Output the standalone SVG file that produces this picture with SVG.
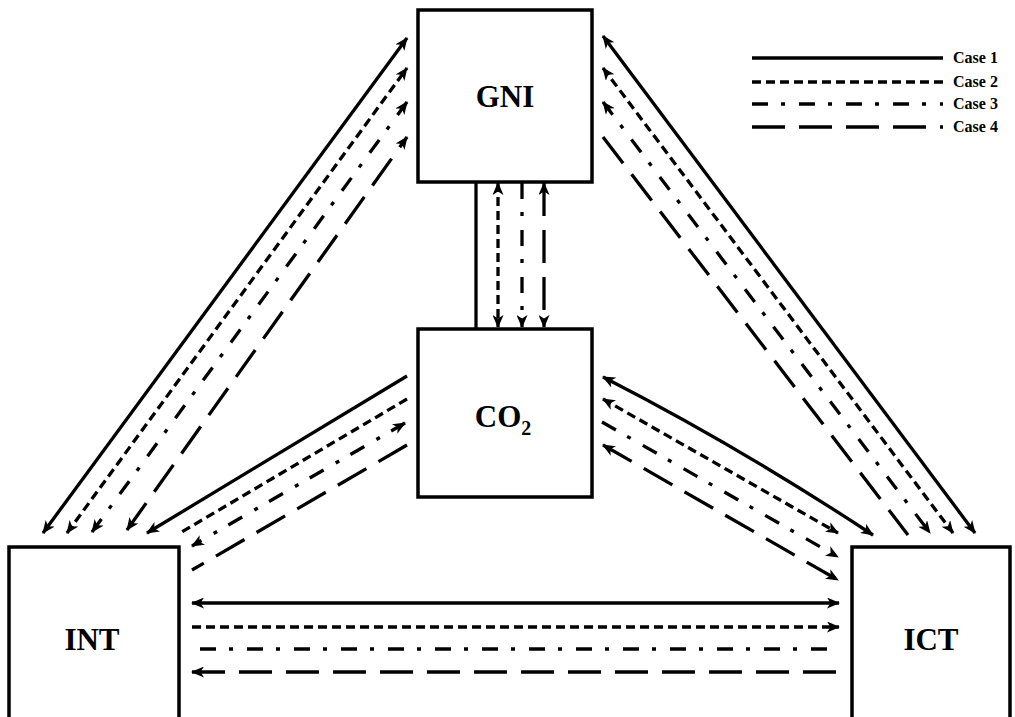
<svg xmlns="http://www.w3.org/2000/svg" width="1015" height="717" viewBox="0 0 1015 717">
<style>
.box{fill:#fff;stroke:#000;stroke-width:3.5}
.lbl{font-family:"Liberation Serif","Times New Roman",serif;font-weight:bold;font-size:31px;text-anchor:middle;fill:#000}
.leg{font-family:"Liberation Serif","Times New Roman",serif;font-weight:bold;font-size:16px;fill:#000}
.c{fill:none;stroke:#000;stroke-width:3.3}
.c2{stroke-dasharray:9 5}
.c3{stroke-dasharray:16 13 4 14}
.c4{stroke-dasharray:33 14}
.a{marker-end:url(#ah)}
.s{marker-start:url(#ah)}
</style>
<defs>
<marker id="ah" viewBox="0 0 13 11" refX="12" refY="5.5" markerWidth="13" markerHeight="11" markerUnits="userSpaceOnUse" orient="auto-start-reverse">
<path d="M0,0 L13,5.5 L0,11 L3.5,5.5 Z" fill="#000"/>
</marker>
</defs>
<rect width="1015" height="717" fill="#fff"/>
<g id="connectors">
<line class="c" x1="476" y1="182" x2="476" y2="329"/>
<line class="c c2 a s" x1="498" y1="183" x2="498" y2="327"/>
<line class="c c3 a" x1="522" y1="183" x2="522" y2="327"/>
<line class="c c4 a s" x1="544" y1="183" x2="544" y2="327"/>
<line class="c a s" x1="43" y1="533" x2="407" y2="38"/>
<line class="c c2 a s" x1="67" y1="533" x2="407" y2="68"/>
<line class="c c3 a s" x1="92" y1="532" x2="407" y2="102"/>
<line class="c c4 a s" x1="127" y1="530" x2="407" y2="137"/>
<line class="c a s" x1="603" y1="36" x2="975" y2="533"/>
<line class="c c2 a s" x1="603" y1="68" x2="953" y2="533"/>
<line class="c c3 a s" x1="603" y1="102" x2="930" y2="533"/>
<line class="c c4" x1="603" y1="137" x2="908" y2="535"/>
<line class="c a" x1="407" y1="376" x2="147" y2="533"/>
<line class="c c2" x1="407" y1="399" x2="180" y2="533"/>
<line class="c c3 a s" x1="405" y1="423" x2="192" y2="546"/>
<line class="c c4" x1="407" y1="445" x2="192" y2="570"/>
<path class="c a s" d="M603,377 Q738,446 873,535"/>
<line class="c c2 a s" x1="603" y1="399" x2="838" y2="533"/>
<line class="c c3 a" x1="602" y1="422" x2="838" y2="557"/>
<line class="c c4 a s" x1="603" y1="445" x2="838" y2="580"/>
<line class="c a s" x1="192" y1="603" x2="839" y2="603"/>
<line class="c c2 a" x1="192" y1="627" x2="839" y2="627"/>
<line class="c c3" x1="200" y1="649" x2="828" y2="649"/>
<line class="c c4 s" x1="192" y1="672" x2="839" y2="672"/>
</g>
<g id="GNI">
<rect class="box" x="418" y="10" width="174" height="172"/>
<text class="lbl" x="505" y="107">GNI</text>
</g>
<g id="CO2">
<rect class="box" x="418" y="329" width="174" height="168"/>
<text class="lbl" x="503" y="427">CO<tspan font-size="20" dy="8">2</tspan></text>
</g>
<g id="INT">
<rect class="box" x="9" y="547" width="170" height="190"/>
<text class="lbl" x="92" y="650">INT</text>
</g>
<g id="ICT">
<rect class="box" x="852" y="547" width="158" height="190"/>
<text class="lbl" x="931" y="650">ICT</text>
</g>
<g id="legend">
<line class="c" stroke-width="3.5" x1="752" y1="58" x2="943" y2="58"/>
<line class="c c2" stroke-width="3.5" x1="752" y1="82" x2="943" y2="82"/>
<line class="c c3" stroke-width="3.5" x1="752" y1="104" x2="943" y2="104"/>
<line class="c c4" stroke-width="3.5" x1="752" y1="127" x2="943" y2="127"/>
<text class="leg" x="953" y="63">Case 1</text>
<text class="leg" x="953" y="87">Case 2</text>
<text class="leg" x="953" y="109">Case 3</text>
<text class="leg" x="953" y="132">Case 4</text>
</g>
</svg>
